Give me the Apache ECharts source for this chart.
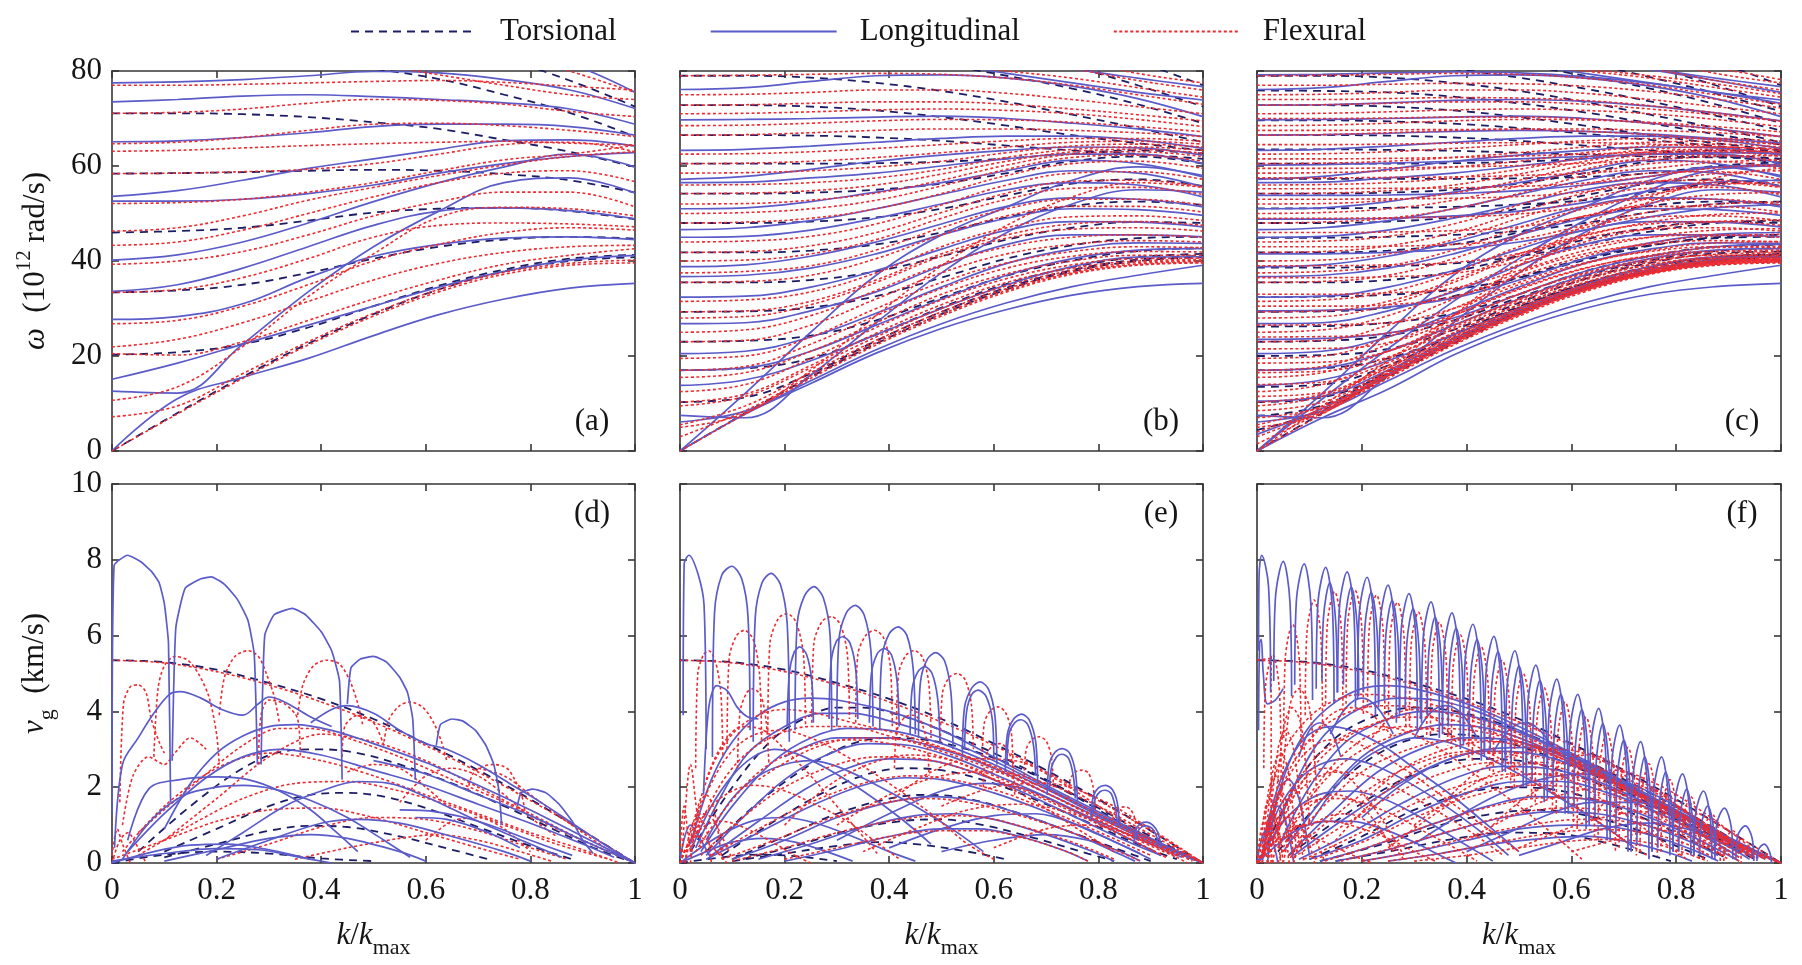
<!DOCTYPE html>
<html><head><meta charset="utf-8">
<script src="https://cdn.jsdelivr.net/npm/echarts/dist/echarts.min.js"></script>
<style>html,body{margin:0;padding:0;background:#fff}#c{width:1802px;height:965px}</style>
</head><body><div id="c"></div>
<script>
// ---------- k grid for the dispersion curves (top row) ----------
const KG = [0, 0.125, 0.25, 0.375, 0.5, 0.625, 0.75, 0.875, 1];

// shared acoustic branches
const T_ac = [0, 8, 15.6, 22.6, 28.8, 34, 37.8, 40, 40.8];
const F_ac = [0, 7.8, 15.3, 22.3, 28.4, 33.5, 37.2, 39.1, 39.6];

// ---------- panel (a) ----------
const aT = [T_ac,
 [20.3, 20.8, 22.5, 26, 30.5, 34.8, 38.2, 40.5, 41.3],
 [33.4, 33.8, 35, 37.5, 40.5, 43, 44.5, 45.1, 44.7],
 [46, 46.3, 47, 48.5, 50.2, 51, 51.2, 50.5, 48.8],
 [58.4, 58.5, 58.7, 59, 59.2, 59, 58.3, 57, 54.4],
 [71.1, 71.1, 70.9, 70.3, 69.2, 67.8, 65.5, 63, 59.8],
 [85, 84.8, 84, 82.5, 80.5, 78.3, 75, 71.2, 66.2],
 [95, 94, 93, 91.5, 89, 86, 82.5, 78, 72.5]];
const aL = [
 [0, 11, 15.5, 19.5, 24.3, 28.7, 32, 34.3, 35.3],
 [12.6, 12.2, 22.5, 33.5, 43, 50.5, 56.5, 57.5, 54.3],
 [15.1, 18.5, 22.5, 26.5, 30.5, 34.5, 37.8, 40.2, 41.2],
 [27.7, 28.3, 31, 36.5, 41, 43.5, 44.8, 45.1, 44.5],
 [33.6, 35, 38.5, 43, 47.5, 50.5, 51.2, 50.6, 48.9],
 [40.2, 41.3, 44, 48, 52.5, 56.5, 59.8, 62.5, 59.8],
 [52.6, 52.6, 53, 54.2, 56, 58.5, 60.5, 62, 62.8],
 [53.6, 54.8, 57, 59.5, 61.5, 63.5, 65.3, 65.5, 64.2],
 [65.1, 65.3, 66, 67, 68.3, 68.8, 68.8, 68.3, 66.5],
 [73.5, 74, 74.7, 75, 74.6, 74, 73.3, 72, 68.8],
 [77.5, 77.7, 78.2, 79, 79.9, 79.6, 78.2, 76, 72.1],
 [95, 94, 92, 90, 88, 86, 84, 81.5, 75.5]];
const aF = [F_ac,
 [7.2, 9.5, 16.3, 23, 29, 34, 37.6, 39.5, 40.2],
 [10.7, 13.5, 22, 32.5, 41.5, 49.2, 51.3, 51, 49.5],
 [20.5, 20.2, 23, 27.5, 32, 36, 39.3, 41.2, 42.6],
 [21.9, 23.5, 27, 31.5, 36, 39.5, 41.8, 43, 43.3],
 [26.8, 27.5, 30.5, 35, 40, 43.5, 46, 47, 46.5],
 [33.4, 34, 36.5, 40.5, 45, 47.5, 48, 47.8, 47.2],
 [39.3, 40, 42, 45.5, 49.5, 52.5, 54.5, 54.5, 51.4],
 [43.3, 44, 46.5, 50, 53.5, 56.5, 58.5, 59, 56.7],
 [46.3, 47, 49.5, 52.8, 55.5, 58, 60.2, 62, 63],
 [52.1, 52.3, 53, 54.5, 56.5, 59, 61.3, 62.5, 64.4],
 [58.4, 58.5, 58.8, 59.3, 60.5, 62.5, 64.5, 65, 63],
 [63.1, 63.3, 63.8, 64.3, 64.7, 65, 65.2, 64.8, 64.4],
 [64.7, 65, 66, 67.5, 68.8, 69, 68.5, 67.5, 66.2],
 [71.1, 71.3, 72, 73.2, 74, 73.8, 73, 71.5, 70.4],
 [77, 77, 77.2, 77.5, 77.8, 78, 77.6, 76.8, 76],
 [86, 85.5, 84.8, 83.5, 81.5, 79.2, 77, 75, 74],
 [96, 95, 94, 92.5, 90, 87, 84, 80, 75.5]];

// ---------- panel (b) ----------
const bT = [T_ac,
 [10.3, 11.3, 16.3, 23.2, 29.3, 34.4, 38.1, 40.3, 41.1],
 [17, 17.4, 19.5, 24.5, 30.2, 35.2, 38.7, 40.8, 41.5],
 [23, 23.2, 24.3, 27.5, 32.3, 36.9, 40.1, 42.1, 42.7],
 [29.3, 29.4, 30.2, 32.6, 36.5, 40.5, 43.3, 44.8, 45.1],
 [35.5, 35.5, 36, 37.8, 41, 44.5, 47, 48.2, 48],
 [41.8, 41.8, 42.2, 43.5, 46, 49.2, 51.6, 52.5, 51.8],
 [48, 48, 48.3, 49.2, 51, 53.8, 56.3, 57.2, 55.8],
 [54.2, 54.2, 54.4, 55, 56.3, 58.5, 61, 62, 60.5],
 [60.5, 60.5, 60.5, 60.6, 60.9, 61.6, 62.6, 63.3, 62.6],
 [66.5, 66.5, 66.4, 66, 65.3, 64.3, 63.3, 62.5, 61.5],
 [72.8, 72.8, 72.5, 71.7, 70.3, 68.5, 66.5, 64.8, 63.3],
 [79, 79, 78.6, 77.5, 75.8, 73.5, 70.8, 68, 65],
 [85, 84.8, 84.2, 83, 81.3, 79, 76.3, 73, 69],
 [92, 91.5, 90.5, 89, 87, 84.5, 81, 77, 72.5],
 [98, 97.5, 96.5, 95, 93, 90, 86.5, 82, 77]];
const bL0 = [0, 7.8, 14.2, 20.6, 25.8, 29.8, 32.8, 34.6, 35.3];
const bL = [
 [0, 12.2, 25, 37, 45.5, 51.4, 57, 59.8, 58],
 [7.5, 7, 16, 27, 37.5, 46, 52, 55, 54.5],
 [6.1, 8.4, 14.8, 21.3, 26.8, 31.2, 34.6, 37, 39.1],
 [13.8, 15, 19, 24.5, 30, 35, 38.8, 40.8, 40.9],
 [17, 17.5, 21, 26.5, 32, 37, 40.5, 42.3, 42.6],
 [20.5, 21, 24, 29, 34.5, 39.5, 42.5, 43.8, 43.7],
 [26.8, 27, 29.5, 33.5, 39, 43.5, 45.5, 45.5, 45.1],
 [32.4, 32.6, 34.5, 38, 42.5, 46.5, 48.3, 48.2, 47.2],
 [36.7, 37, 38.5, 41.5, 45.5, 49, 51, 50.8, 49.6],
 [38.8, 39.2, 41, 44, 47.8, 51.5, 53.3, 53, 51.4],
 [45, 45.2, 46.5, 49, 52, 55, 56.5, 56, 53.5],
 [46.6, 47, 48.5, 51, 54, 57, 59, 58.5, 55.6],
 [51, 51.2, 52.5, 54.5, 56.5, 59, 61.2, 60.5, 57.7],
 [56.5, 56.6, 57.5, 58.5, 60, 61.5, 62.5, 62.5, 60.5],
 [57.2, 57.8, 59.3, 61, 62.3, 63.3, 64, 63.8, 62.3],
 [63.3, 63.5, 64.2, 65, 65.8, 66.3, 66.3, 65.5, 63.7],
 [69.7, 69.8, 70, 70.3, 70.5, 70, 69, 67.8, 66.2],
 [76.1, 76.5, 77.8, 79, 79.2, 78.5, 76.8, 74.2, 70.4],
 [85, 84.8, 84, 83, 81.5, 79.5, 77.5, 75.5, 73.9],
 [90, 89.5, 88.5, 87, 85, 83, 80.5, 78.5, 76.7]];
const bF = [F_ac,
 [5, 8, 17, 28.5, 39, 47.5, 53.5, 56.5, 55.5],
 [3, 8.5, 15.8, 22.8, 28.8, 33.8, 37.4, 39.2, 39.7],
 [5.5, 9.5, 16.5, 23.3, 29.3, 34.2, 37.6, 39.4, 39.9],
 [9.5, 11.5, 17.5, 24, 30, 34.8, 38, 39.7, 40.1],
 [10.3, 12, 18, 24.8, 30.8, 35.5, 38.5, 40, 40.3],
 [12.5, 14, 19.5, 26, 31.8, 36.3, 39.2, 40.5, 40.6],
 [15.5, 16.5, 21, 27, 33, 37.3, 40, 41.2, 41.2],
 [17, 17.8, 22.5, 28.5, 34.2, 38.5, 41, 42, 41.9],
 [19.5, 20, 24, 30, 35.5, 39.6, 42, 43, 42.8],
 [23, 23.3, 26.5, 32, 37.5, 41.5, 43.5, 44.3, 44],
 [25, 25.5, 28.5, 33.8, 39.2, 43, 45, 45.5, 45],
 [28, 28.3, 30.8, 35.5, 41, 44.8, 46.7, 47, 46.3],
 [29.3, 29.5, 31.5, 36, 41.5, 45.5, 47.8, 48.3, 47.5],
 [31.5, 31.8, 33.5, 37.5, 43, 47, 49.3, 49.5, 48.5],
 [35.5, 35.7, 37, 40.5, 45.5, 49.5, 51.5, 51.5, 50.3],
 [37.5, 37.8, 39, 42.3, 47, 51, 53, 53, 51.8],
 [40, 40.2, 41.5, 44.5, 49, 53, 55.3, 55.5, 54],
 [41.8, 42, 43.2, 46, 50.2, 54.3, 56.8, 57, 55.6],
 [44, 44.2, 45.2, 47.8, 51.8, 56, 58.5, 58.8, 57.2],
 [48, 48.2, 49, 51, 54.2, 58, 60.5, 61, 59.5],
 [50, 50.2, 51, 52.8, 55.8, 59.3, 61.8, 62.3, 61],
 [52, 52.1, 52.8, 54.3, 57, 60.2, 62.5, 63, 62],
 [54.2, 54.3, 54.8, 56, 58.3, 61, 63, 63.5, 62.7],
 [56, 56.1, 56.5, 57.5, 59.3, 61.8, 63.5, 64, 63.3],
 [58.5, 58.6, 59, 59.8, 61, 62.8, 64.2, 64.6, 64],
 [60.5, 60.6, 61, 61.8, 62.8, 64, 65, 65.2, 64.6],
 [62.5, 62.6, 63, 63.7, 64.5, 65.3, 65.8, 65.8, 65.2],
 [66.5, 66.6, 67, 67.5, 67.8, 67.8, 67.5, 67, 66.2],
 [68.5, 68.6, 69, 69.5, 69.8, 69.7, 69.2, 68.3, 67.2],
 [71, 71.1, 71.4, 71.8, 72, 71.7, 71, 69.8, 68.3],
 [72.8, 72.9, 73.2, 73.5, 73.5, 73, 72, 70.8, 69.5],
 [75, 75.1, 75.5, 76, 76, 75.3, 74, 72.5, 71],
 [79, 79.1, 79.3, 79.5, 79.3, 78.5, 77, 75, 73],
 [84, 83.8, 83.3, 82.5, 81.5, 80, 78.5, 76.5, 74.5],
 [88, 87.7, 87, 86, 84.5, 82.5, 80.5, 78, 76],
 [93, 92.5, 91.5, 90, 88, 85.5, 82.5, 79.5, 77.5]];

// ---------- panel (c): (b)-like families plus the extra, finer branches ----------
const cTx = [
 [4.4, 8.6, 16.1, 23.1, 29.2, 34.3, 38, 40.2, 40.9],
 [7.4, 9.6, 16.8, 23.7, 29.7, 34.7, 38.3, 40.4, 41],
 [13.5, 14, 18, 24.5, 30.4, 35.3, 38.8, 40.8, 41.3],
 [20, 20.2, 21.5, 25.5, 31.2, 36.2, 39.6, 41.6, 42],
 [26.2, 26.3, 27, 29, 33, 37.8, 41, 43, 43.4],
 [32.4, 32.5, 32.9, 34, 36.5, 40.2, 43.2, 45, 45.5],
 [38.6, 38.6, 38.9, 39.5, 41, 43.5, 46.2, 48, 48.5],
 [44.9, 44.9, 45.1, 45.5, 46.3, 48, 50.3, 52, 52.5],
 [51.1, 51.1, 51.2, 51.4, 51.9, 52.8, 54.5, 56.3, 57],
 [57.3, 57.3, 57.3, 57.3, 57.4, 57.7, 58.5, 60, 60.8],
 [63.5, 63.5, 63.4, 63.2, 62.8, 62.4, 62, 61.8, 61.5],
 [69.6, 69.6, 69.4, 68.9, 68, 66.8, 65.5, 64.2, 63],
 [75.9, 75.8, 75.5, 74.6, 73.2, 71.3, 69, 66.7, 64.5],
 [82.3, 82.2, 81.6, 80.4, 78.6, 76.3, 73.6, 70.6, 67.5],
 [88.5, 88.3, 87.6, 86.3, 84.3, 81.7, 78.7, 75.3, 71.5]];
const cL0 = [0, 7, 13, 20.2, 25.8, 30, 33, 34.6, 35.3];
const cLx = [
 [0, 11, 21.5, 31.5, 40.5, 48.5, 55, 59.2, 60],
 [3.5, 9, 16, 23, 29, 34, 37.6, 39.7, 40.4],
 [10.5, 11.5, 17, 23.6, 29.6, 34.6, 38.2, 40.3, 40.9],
 [23.5, 23.7, 24.8, 28, 33, 37.8, 41, 43, 43.5],
 [29.5, 29.6, 30.3, 32.2, 36, 40.5, 43.8, 45.6, 46],
 [41.5, 41.5, 41.8, 42.5, 44, 46.5, 49.3, 51.2, 51.8],
 [48.8, 48.8, 49, 49.5, 50.5, 52.3, 54.8, 56.6, 57],
 [53.8, 53.8, 53.9, 54.2, 54.8, 56, 57.8, 59.7, 60.3],
 [60.2, 60.3, 60.6, 61, 61.5, 62, 62.5, 62.8, 62.6],
 [66.5, 66.6, 66.9, 67.3, 67.5, 67.3, 66.7, 65.8, 64.8],
 [72.8, 72.9, 73.3, 73.8, 74, 73.6, 72.6, 71.2, 69.5],
 [79.2, 79.3, 79.6, 79.8, 79.6, 78.8, 77.4, 75.5, 73.2],
 [85.5, 85.5, 85.3, 84.8, 83.8, 82.3, 80.3, 78, 75.5]];
const cFx = [
 [0, 9.5, 19, 28.5, 37.5, 45.5, 52.5, 57.5, 59.5],
 [1.5, 8.3, 15.7, 22.6, 28.7, 33.8, 37.4, 39.3, 39.8],
 [4, 8.9, 16.1, 23, 29, 34.1, 37.6, 39.5, 40],
 [7, 9.3, 16.4, 23.3, 29.3, 34.3, 37.8, 39.7, 40.2],
 [8.5, 10.3, 16.9, 23.7, 29.6, 34.5, 38, 39.9, 40.4],
 [11.5, 12.3, 17.6, 24.2, 30.1, 34.9, 38.3, 40.1, 40.6],
 [14, 14.5, 18.6, 24.9, 30.7, 35.4, 38.7, 40.5, 40.9],
 [16.5, 16.8, 19.8, 25.6, 31.4, 36, 39.2, 40.9, 41.3],
 [18.5, 18.7, 21, 26.4, 32, 36.6, 39.7, 41.4, 41.7],
 [21.5, 21.6, 22.8, 27.5, 33, 37.5, 40.4, 42, 42.3],
 [24, 24.1, 24.8, 28.6, 34, 38.4, 41.2, 42.8, 43.1],
 [26.5, 26.6, 27, 30, 35, 39.4, 42.2, 43.8, 44.1],
 [30.5, 30.5, 30.8, 32.5, 36.8, 41, 43.8, 45.3, 45.6],
 [33, 33, 33.3, 34.3, 38, 42.2, 45, 46.5, 46.8],
 [36.5, 36.5, 36.7, 37.4, 40, 44, 46.8, 48.3, 48.6],
 [39, 39, 39.2, 39.7, 41.6, 45.3, 48.2, 49.8, 50.1],
 [43, 43, 43.1, 43.5, 44.6, 47.5, 50.3, 52, 52.4],
 [46, 46, 46.1, 46.4, 47.2, 49.4, 52.2, 54, 54.4],
 [49, 49, 49.1, 49.3, 49.9, 51.5, 54, 56, 56.5],
 [53, 53, 53.1, 53.2, 53.6, 54.6, 56.5, 58.4, 59],
 [55.2, 55.2, 55.3, 55.4, 55.7, 56.4, 57.8, 59.6, 60.2],
 [57.5, 57.5, 57.6, 57.7, 58, 58.5, 59.5, 60.8, 61.3],
 [59.5, 59.5, 59.6, 59.8, 60.1, 60.6, 61.3, 62, 62.2],
 [61.5, 61.5, 61.6, 61.8, 62.1, 62.5, 62.9, 63.2, 63],
 [64.5, 64.5, 64.6, 64.8, 64.9, 64.9, 64.6, 64.1, 63.6],
 [67.5, 67.5, 67.6, 67.7, 67.7, 67.3, 66.6, 65.6, 64.5],
 [70, 70, 70.1, 70.3, 70.3, 69.9, 69, 67.7, 66.2],
 [74, 74, 74.2, 74.4, 74.3, 73.8, 72.7, 71.2, 69.4],
 [77, 77, 77.2, 77.4, 77.3, 76.8, 75.7, 74.1, 72.2],
 [81, 81, 81.1, 81.2, 81, 80.3, 79, 77.3, 75.2],
 [86, 86, 86, 85.8, 85.2, 84.2, 82.6, 80.6, 78.2]];

// ---------- group velocity panels: [k, v] points ----------
const T1v = [[0,5.35],[0.1,5.3],[0.2,5.1],[0.3,4.75],[0.4,4.33],[0.5,3.8],[0.6,3.15],[0.7,2.45],[0.8,1.68],[0.9,0.85],[1,0]];
const F1v = [[0,5.35],[0.1,5.28],[0.2,5.05],[0.3,4.7],[0.4,4.25],[0.5,3.72],[0.6,3.1],[0.7,2.4],[0.8,1.65],[0.9,0.85],[1,0]];

// (d)
const dT = [T1v,
 [[0.05,0.3],[0.15,1.5],[0.25,2.5],[0.33,2.95],[0.4,3.0],[0.47,2.9],[0.55,2.6],[0.65,2.1],[0.75,1.5],[0.85,0.85],[0.93,0.35],[1,0]],
 [[0.1,0.3],[0.2,0.9],[0.3,1.5],[0.38,1.8],[0.45,1.85],[0.52,1.75],[0.6,1.45],[0.7,0.95],[0.8,0.45],[0.88,0.1]],
 [[0.1,0.15],[0.2,0.5],[0.3,0.85],[0.38,0.98],[0.45,0.95],[0.55,0.7],[0.65,0.35],[0.72,0.1]],
 [[0,0],[0.1,0.22],[0.2,0.3],[0.3,0.25],[0.4,0.12],[0.5,0.05]]];
const dLh = [
 [[0,1.3],[0.004,7.85],[0.03,8.12],[0.055,7.95],[0.075,7.7],[0.09,7.4],[0.1,6.85],[0.108,5.8],[0.112,1.6]],
 [[0.115,2.7],[0.122,6.2],[0.14,7.25],[0.17,7.5],[0.19,7.55],[0.215,7.35],[0.24,6.95],[0.26,6.4],[0.272,5.5],[0.278,2.6]],
 [[0.285,2.6],[0.292,6.0],[0.31,6.55],[0.345,6.72],[0.37,6.55],[0.4,6.1],[0.42,5.6],[0.435,4.8],[0.44,2.2]],
 [[0.45,4.2],[0.457,5.15],[0.475,5.38],[0.5,5.45],[0.525,5.3],[0.55,4.9],[0.565,4.5],[0.575,3.8],[0.58,2.2]],
 [[0.62,3.1],[0.628,3.65],[0.65,3.8],[0.67,3.75],[0.695,3.5],[0.715,3.1],[0.73,2.6],[0.74,1.9],[0.745,1.0]],
 [[0.775,1.5],[0.782,1.85],[0.805,1.95],[0.83,1.85],[0.855,1.55],[0.88,1.1],[0.9,0.6],[0.92,0.25]]];
const dLb = [
 [[0.005,0.4],[0.02,2.6],[0.05,3.3],[0.08,3.95],[0.11,4.45],[0.13,4.52],[0.17,4.35],[0.21,4.05],[0.25,3.9],[0.28,4.2],[0.3,4.38],[0.33,4.25],[0.38,3.85],[0.42,3.6]],
 [[0.38,3.7],[0.42,4.05],[0.45,4.15],[0.5,3.95],[0.55,3.5],[0.6,3.15],[0.64,3.0],[0.7,2.6],[0.76,2.1],[0.82,1.6],[0.88,1.05],[0.94,0.5],[1,0]],
 [[0.1,0.9],[0.15,2.1],[0.2,2.9],[0.25,3.35],[0.3,3.6],[0.35,3.65],[0.42,3.5],[0.5,3.15],[0.6,2.65],[0.7,2.05],[0.8,1.4],[0.9,0.7],[1,0]],
 [[0.03,0.3],[0.1,1.3],[0.18,2.25],[0.25,2.8],[0.32,3.0],[0.4,2.85],[0.5,2.45],[0.6,2.05],[0.7,1.55],[0.8,1.05],[0.9,0.5],[0.96,0.15]],
 [[0.02,0.1],[0.08,1.2],[0.14,1.8],[0.2,2.0],[0.25,2.05],[0.31,1.95],[0.38,1.65],[0.45,1.2],[0.52,0.6],[0.57,0.15]],
 [[0.03,0.6],[0.07,1.95],[0.13,2.2],[0.2,2.27],[0.26,2.2],[0.32,1.9],[0.38,1.4],[0.43,0.8],[0.47,0.3]],
 [[0.18,0.2],[0.25,0.8],[0.33,1.5],[0.4,1.9],[0.47,2.15],[0.53,2.1],[0.6,1.75],[0.7,1.1],[0.8,0.5],[0.86,0.15]],
 [[0.2,0.1],[0.3,0.6],[0.4,1.05],[0.47,1.15],[0.55,1.05],[0.65,0.7],[0.75,0.3],[0.8,0.05]],
 [[0.1,0.05],[0.2,0.35],[0.3,0.65],[0.38,0.75],[0.45,0.65],[0.55,0.3],[0.6,0.05]],
 [[0,0],[0.08,0.3],[0.15,0.47],[0.22,0.5],[0.3,0.35],[0.38,0.1]],
 [[0,0.05],[0.1,0.25],[0.2,0.38],[0.28,0.35],[0.36,0.15],[0.42,0]],
 [[0.5,2.7],[0.6,2.35],[0.7,1.8],[0.8,1.25],[0.9,0.6],[1,0]],
 [[0.55,1.4],[0.62,1.35],[0.7,1.1],[0.8,0.6],[0.88,0.2]],
 [[0.58,1.2],[0.64,1.15],[0.72,0.8],[0.78,0.4]]];
const dF = [F1v,
 [[0.015,1.6],[0.022,4.2],[0.035,4.65],[0.05,4.7],[0.065,4.5],[0.075,3.8],[0.09,3.2],[0.1,2.9]],
 [[0.08,2.8],[0.088,4.6],[0.1,5.2],[0.12,5.45],[0.145,5.35],[0.165,5.0],[0.185,4.4],[0.2,3.4],[0.205,2.6]],
 [[0.205,3.9],[0.215,4.9],[0.235,5.45],[0.26,5.6],[0.28,5.45],[0.295,5.0],[0.31,4.4],[0.32,3.7]],
 [[0.355,3.9],[0.365,4.7],[0.385,5.2],[0.41,5.35],[0.435,5.25],[0.455,4.8],[0.47,4.2],[0.48,3.6]],
 [[0.52,3.2],[0.53,3.8],[0.55,4.15],[0.57,4.25],[0.595,4.1],[0.615,3.7],[0.63,3.2],[0.64,2.7]],
 [[0.68,1.9],[0.69,2.35],[0.71,2.55],[0.73,2.6],[0.755,2.5],[0.77,2.2],[0.785,1.7],[0.79,1.3]],
 [[0.05,0.8],[0.15,2],[0.25,3.1],[0.32,3.55],[0.38,3.55],[0.45,3.3],[0.55,2.8],[0.65,2.2],[0.75,1.6],[0.85,0.9],[0.95,0.3],[1,0]],
 [[0.1,0.6],[0.2,1.7],[0.3,2.8],[0.4,3.4],[0.5,3.2],[0.6,2.7],[0.7,2.0],[0.8,1.3],[0.9,0.6],[1,0]],
 [[0.02,0.3],[0.1,1.5],[0.2,2.5],[0.3,2.9],[0.4,2.7],[0.5,2.3],[0.6,1.8],[0.7,1.3],[0.8,0.8],[0.9,0.35],[0.97,0]],
 [[0.05,0.2],[0.15,1.0],[0.25,1.7],[0.35,2.1],[0.45,2.15],[0.55,1.9],[0.65,1.5],[0.75,1.0],[0.85,0.5],[0.95,0.1]],
 [[0,0.1],[0.1,0.6],[0.2,1.1],[0.3,1.4],[0.4,1.45],[0.5,1.2],[0.6,0.8],[0.7,0.4],[0.78,0.1]],
 [[0.2,0.1],[0.3,0.5],[0.4,0.95],[0.5,1.2],[0.6,1.15],[0.7,0.85],[0.8,0.4],[0.87,0.1]],
 [[0.35,0.1],[0.45,0.4],[0.55,0.65],[0.62,0.75],[0.7,0.6],[0.78,0.3],[0.84,0.05]],
 [[0,0.2],[0.01,0.9],[0.02,0.5],[0.035,0]],
 [[0,0],[0.015,0.6],[0.03,0.8],[0.05,0.4],[0.065,0]],
 [[0.02,1.0],[0.04,2.3],[0.07,2.8],[0.1,2.6],[0.12,2.9],[0.15,3.3],[0.18,3.0]],
 [[0.28,2.6],[0.285,3.9],[0.3,4.3],[0.33,4.2],[0.355,3.8],[0.36,2.8]],
 [[0.44,2.8],[0.445,3.6],[0.47,3.9],[0.5,3.7],[0.52,3.1]],
 [[0.55,1.6],[0.6,2.3],[0.65,2.5],[0.7,2.3],[0.75,1.8],[0.8,1.2],[0.85,0.7]],
 [[0.45,2.4],[0.5,2.6],[0.55,2.5],[0.6,2.0],[0.65,1.4]],
 [[0.6,0.6],[0.65,1.1],[0.7,1.2],[0.75,0.9],[0.8,0.3]],
 [[0.7,2.5],[0.75,2.3],[0.8,1.8],[0.85,1.3],[0.9,0.8],[0.95,0.35],[1,0]]];

// (e)
const eT = [T1v,
 [[0.02,0.3],[0.1,2.0],[0.18,3.3],[0.25,3.9],[0.3,4.1],[0.35,4.1],[0.42,3.9],[0.5,3.5],[0.6,2.9],[0.7,2.2],[0.8,1.45],[0.9,0.7],[1,0]],
 [[0.05,0.3],[0.15,1.6],[0.25,2.6],[0.33,3.15],[0.4,3.3],[0.47,3.25],[0.55,3.0],[0.65,2.5],[0.75,1.8],[0.85,1.0],[0.93,0.4],[1,0]],
 [[0.08,0.2],[0.18,1.1],[0.28,1.9],[0.36,2.35],[0.43,2.5],[0.5,2.45],[0.6,2.1],[0.7,1.55],[0.8,0.95],[0.9,0.35],[0.95,0.1]],
 [[0.1,0.1],[0.2,0.7],[0.3,1.3],[0.4,1.7],[0.47,1.8],[0.55,1.7],[0.65,1.3],[0.75,0.8],[0.85,0.3],[0.9,0.05]],
 [[0.12,0.1],[0.22,0.45],[0.32,0.85],[0.42,1.1],[0.5,1.15],[0.58,1.0],[0.68,0.65],[0.78,0.25],[0.83,0.05]],
 [[0.1,0.05],[0.2,0.25],[0.3,0.45],[0.38,0.55],[0.45,0.5],[0.55,0.3],[0.63,0.08]],
 [[0,0],[0.08,0.15],[0.15,0.22],[0.22,0.18],[0.3,0.05]]];
const eLh = [
 [[0.006,3.9],[0.008,7.9],[0.017,8.12],[0.035,7.6],[0.046,6.8],[0.05,3.0]],
 [[0.062,2.8],[0.066,6.6],[0.08,7.6],[0.099,7.83],[0.118,7.5],[0.13,6.5],[0.134,3.5]],
 [[0.14,3.2],[0.144,6.5],[0.157,7.4],[0.174,7.64],[0.192,7.35],[0.205,6.3],[0.209,3.2]],
 [[0.22,3.5],[0.224,6.3],[0.238,7.05],[0.256,7.29],[0.274,7.0],[0.287,6.0],[0.29,3.5]],
 [[0.3,3.6],[0.304,5.9],[0.318,6.6],[0.335,6.8],[0.352,6.55],[0.365,5.6],[0.369,3.6]],
 [[0.382,3.5],[0.386,5.4],[0.4,6.05],[0.417,6.23],[0.434,6.0],[0.446,5.1],[0.45,3.4]],
 [[0.456,3.3],[0.46,4.8],[0.473,5.38],[0.489,5.55],[0.506,5.33],[0.518,4.5],[0.522,3.0]],
 [[0.54,2.8],[0.544,4.1],[0.558,4.62],[0.574,4.78],[0.59,4.58],[0.602,3.9],[0.606,2.6]],
 [[0.622,2.4],[0.626,3.4],[0.638,3.8],[0.653,3.93],[0.668,3.77],[0.68,3.2],[0.684,2.1]],
 [[0.702,1.8],[0.706,2.6],[0.717,2.92],[0.731,3.02],[0.745,2.9],[0.756,2.4],[0.76,1.6]],
 [[0.786,1.2],[0.79,1.75],[0.8,1.98],[0.813,2.05],[0.826,1.95],[0.836,1.6],[0.84,1.0]],
 [[0.868,0.5],[0.872,0.9],[0.882,1.05],[0.892,1.08],[0.904,1.0],[0.914,0.8],[0.92,0.4]],
 [[0.045,1.8],[0.055,4.1],[0.07,4.68],[0.09,4.55],[0.11,4.1],[0.13,3.85],[0.15,3.8]],
 [[0.205,3.6],[0.209,5.0],[0.218,5.55],[0.229,5.7],[0.242,5.5],[0.252,4.8],[0.255,3.7]],
 [[0.285,3.8],[0.289,5.3],[0.299,5.85],[0.311,5.97],[0.325,5.8],[0.336,5.1],[0.34,3.8]],
 [[0.362,3.7],[0.366,5.0],[0.377,5.52],[0.39,5.66],[0.404,5.5],[0.415,4.8],[0.419,3.6]],
 [[0.44,3.4],[0.444,4.6],[0.455,5.05],[0.468,5.18],[0.482,5.0],[0.493,4.3],[0.497,3.2]],
 [[0.544,3.0],[0.548,4.0],[0.558,4.45],[0.57,4.56],[0.585,4.4],[0.597,3.8],[0.6,2.8]],
 [[0.625,2.6],[0.629,3.4],[0.64,3.7],[0.652,3.78],[0.665,3.65],[0.676,3.1],[0.68,2.3]],
 [[0.706,1.9],[0.71,2.5],[0.72,2.8],[0.73,2.87],[0.743,2.76],[0.752,2.3],[0.756,1.7]],
 [[0.79,1.3],[0.794,1.7],[0.803,1.88],[0.813,1.92],[0.824,1.84],[0.832,1.5],[0.836,1.1]],
 [[0.872,0.6],[0.876,0.85],[0.884,0.96],[0.892,0.98],[0.902,0.92],[0.91,0.75],[0.915,0.45]]];
const eLb = [
 [[0.02,0.5],[0.06,2.2],[0.1,3.2],[0.15,3.9],[0.2,4.25],[0.25,4.35],[0.3,4.3],[0.4,4.0],[0.5,3.5],[0.6,2.8],[0.7,2.05],[0.8,1.35],[0.9,0.65],[1,0]],
 [[0.03,0.4],[0.08,1.8],[0.13,2.9],[0.2,3.6],[0.27,3.95],[0.33,3.95],[0.4,3.75],[0.5,3.3],[0.6,2.7],[0.7,2.0],[0.8,1.3],[0.9,0.62],[1,0]],
 [[0.04,0.3],[0.1,1.5],[0.18,2.7],[0.25,3.3],[0.32,3.55],[0.4,3.5],[0.5,3.15],[0.6,2.6],[0.7,1.95],[0.8,1.25],[0.9,0.6],[0.98,0.1]],
 [[0.05,0.2],[0.12,1.2],[0.2,2.2],[0.28,2.85],[0.36,3.15],[0.44,3.1],[0.52,2.8],[0.6,2.35],[0.7,1.75],[0.8,1.1],[0.9,0.5],[0.96,0.15]],
 [[0.06,0.2],[0.15,1.1],[0.24,1.95],[0.32,2.5],[0.4,2.75],[0.48,2.7],[0.56,2.4],[0.65,1.9],[0.75,1.25],[0.85,0.6],[0.92,0.2]],
 [[0.05,0.1],[0.15,0.8],[0.25,1.5],[0.35,2.05],[0.43,2.25],[0.5,2.2],[0.6,1.85],[0.7,1.35],[0.8,0.75],[0.88,0.25]],
 [[0.1,0.1],[0.2,0.6],[0.3,1.2],[0.4,1.6],[0.48,1.75],[0.56,1.65],[0.65,1.3],[0.75,0.8],[0.83,0.3],[0.87,0.05]],
 [[0.15,0.1],[0.25,0.5],[0.35,0.95],[0.45,1.25],[0.52,1.3],[0.6,1.15],[0.7,0.75],[0.78,0.35],[0.83,0.05]],
 [[0.2,0.05],[0.3,0.35],[0.4,0.7],[0.5,0.9],[0.57,0.9],[0.65,0.7],[0.73,0.35],[0.78,0.05]],
 [[0,0],[0.05,0.5],[0.1,0.9],[0.15,1.15],[0.2,1.2],[0.26,1.05],[0.33,0.7],[0.4,0.3],[0.45,0.05]],
 [[0,0],[0.05,0.3],[0.1,0.55],[0.16,0.65],[0.22,0.55],[0.28,0.3],[0.33,0.05]],
 [[0.05,0.6],[0.1,1.7],[0.15,2.3],[0.2,2.6],[0.25,2.7],[0.3,2.55],[0.37,2.1],[0.45,1.5],[0.52,0.9],[0.58,0.3]],
 [[0.02,0.3],[0.06,1.5],[0.1,2.3],[0.14,2.8],[0.18,3.0],[0.22,2.9],[0.28,2.5],[0.35,1.9],[0.42,1.2],[0.48,0.5]],
 [[0.2,2.8],[0.3,3.3],[0.4,3.3],[0.5,3.0],[0.6,2.5],[0.7,1.85],[0.8,1.2],[0.9,0.55],[1,0]],
 [[0.3,0.6],[0.4,1.3],[0.5,1.9],[0.58,2.1],[0.66,1.95],[0.75,1.4],[0.85,0.7],[0.92,0.2]],
 [[0.4,0.4],[0.5,0.9],[0.6,1.25],[0.68,1.3],[0.76,1.0],[0.84,0.5],[0.9,0.1]],
 [[0.5,0.3],[0.6,0.6],[0.7,0.75],[0.78,0.6],[0.85,0.25],[0.88,0.05]],
 [[0,0.1],[0.02,1.0],[0.04,0.6],[0.06,0.1]]];
const eFh = [
 [[0.03,2.5],[0.034,5.0],[0.045,5.5],[0.055,5.6],[0.068,5.3],[0.078,4.5],[0.082,2.8]],
 [[0.09,3.0],[0.094,5.4],[0.108,6.0],[0.123,6.14],[0.14,5.9],[0.152,5.0],[0.156,3.2]],
 [[0.168,3.5],[0.172,5.8],[0.188,6.45],[0.205,6.58],[0.222,6.35],[0.236,5.5],[0.24,3.6]],
 [[0.252,3.7],[0.256,5.8],[0.272,6.38],[0.29,6.5],[0.307,6.28],[0.32,5.5],[0.324,3.8]],
 [[0.336,3.7],[0.34,5.5],[0.355,6.0],[0.372,6.14],[0.389,5.95],[0.402,5.2],[0.406,3.6]],
 [[0.414,3.5],[0.418,5.0],[0.432,5.48],[0.448,5.6],[0.464,5.42],[0.476,4.7],[0.48,3.3]],
 [[0.498,3.2],[0.502,4.5],[0.515,4.9],[0.53,5.0],[0.545,4.84],[0.557,4.2],[0.561,3.0]],
 [[0.578,2.8],[0.582,3.7],[0.594,4.03],[0.608,4.12],[0.622,3.98],[0.633,3.5],[0.637,2.5]],
 [[0.658,2.3],[0.662,3.0],[0.673,3.26],[0.687,3.33],[0.7,3.22],[0.71,2.8],[0.714,2.0]],
 [[0.742,1.7],[0.746,2.2],[0.756,2.4],[0.769,2.45],[0.781,2.37],[0.79,2.0],[0.794,1.4]],
 [[0.826,1.0],[0.83,1.3],[0.839,1.45],[0.85,1.48],[0.861,1.42],[0.869,1.2],[0.873,0.8]],
 [[0.11,2.5],[0.115,4.0],[0.128,4.5],[0.14,4.6],[0.155,4.4],[0.165,3.7],[0.17,2.6]],
 [[0.41,2.5],[0.415,3.5],[0.43,3.85],[0.445,3.9],[0.46,3.75],[0.472,3.2],[0.476,2.3]],
 [[0.58,2.0],[0.584,2.8],[0.598,3.1],[0.612,3.15],[0.626,3.0],[0.636,2.6],[0.64,1.8]]];
const eFb = [F1v,
 [[0.02,0.8],[0.06,2.5],[0.1,3.4],[0.15,3.9],[0.2,4.05],[0.26,3.95],[0.33,3.7],[0.42,3.4],[0.5,3.05],[0.6,2.55],[0.7,1.95],[0.8,1.3],[0.9,0.6],[1,0]],
 [[0.02,0.4],[0.07,1.9],[0.12,2.8],[0.18,3.35],[0.25,3.6],[0.32,3.6],[0.4,3.35],[0.5,2.95],[0.6,2.45],[0.7,1.85],[0.8,1.2],[0.9,0.55],[0.98,0.05]],
 [[0.03,0.3],[0.09,1.5],[0.16,2.5],[0.24,3.05],[0.32,3.25],[0.4,3.15],[0.5,2.8],[0.6,2.3],[0.7,1.7],[0.8,1.1],[0.9,0.45],[0.95,0.15]],
 [[0.04,0.2],[0.12,1.2],[0.2,2.0],[0.3,2.6],[0.38,2.8],[0.46,2.75],[0.55,2.45],[0.65,1.95],[0.75,1.35],[0.85,0.7],[0.93,0.15]],
 [[0.06,0.2],[0.15,0.9],[0.25,1.6],[0.35,2.1],[0.44,2.3],[0.52,2.2],[0.62,1.85],[0.72,1.3],[0.82,0.7],[0.9,0.2]],
 [[0.08,0.1],[0.18,0.6],[0.28,1.15],[0.38,1.55],[0.47,1.7],[0.55,1.6],[0.65,1.25],[0.75,0.8],[0.84,0.3],[0.88,0.05]],
 [[0.1,0.05],[0.2,0.4],[0.3,0.8],[0.4,1.1],[0.5,1.25],[0.58,1.2],[0.67,0.9],[0.76,0.5],[0.83,0.1]],
 [[0.2,0.1],[0.3,0.4],[0.4,0.7],[0.5,0.85],[0.58,0.85],[0.66,0.65],[0.74,0.3],[0.78,0.05]],
 [[0,0],[0.03,0.9],[0.06,1.5],[0.1,1.9],[0.14,2.05],[0.19,1.95],[0.25,1.6],[0.32,1.1],[0.38,0.5],[0.42,0.1]],
 [[0,0],[0.02,0.6],[0.05,1.0],[0.08,1.1],[0.12,0.95],[0.17,0.6],[0.22,0.2],[0.25,0]],
 [[0,0],[0.015,0.5],[0.03,0.7],[0.05,0.6],[0.07,0.3],[0.09,0]],
 [[0.01,0],[0.025,0.9],[0.04,1.3],[0.06,1.2],[0.08,0.7],[0.1,0.1]],
 [[0.05,2.2],[0.08,3.1],[0.12,3.6],[0.16,3.5],[0.2,3.0],[0.25,2.3],[0.3,1.5],[0.35,0.7],[0.38,0.2]],
 [[0.15,2.2],[0.25,3.0],[0.35,3.3],[0.45,3.2],[0.55,2.8],[0.65,2.2],[0.75,1.5],[0.85,0.8],[0.95,0.2]],
 [[0.3,1.0],[0.4,1.8],[0.5,2.3],[0.6,2.4],[0.7,2.1],[0.8,1.5],[0.9,0.75],[1,0]],
 [[0.5,1.5],[0.6,2.0],[0.7,2.1],[0.8,1.7],[0.9,0.9],[1,0]],
 [[0.35,0.3],[0.45,0.9],[0.55,1.4],[0.65,1.55],[0.75,1.3],[0.85,0.7],[0.93,0.15]],
 [[0.6,0.4],[0.7,0.9],[0.78,1.0],[0.86,0.75],[0.93,0.3],[0.97,0]],
 [[0.003,0],[0.01,1.4],[0.02,2.6],[0.03,1.6],[0.04,0.4]],
 [[0,0.3],[0.008,1.5],[0.015,0.8],[0.022,0.1]],
 [[0.03,1.2],[0.08,2.6],[0.13,3.3],[0.19,3.5],[0.25,3.3],[0.32,2.8],[0.4,2.1],[0.48,1.3],[0.55,0.5],[0.6,0.1]],
 [[0.2,1.0],[0.28,2.0],[0.36,2.6],[0.44,2.85],[0.52,2.7],[0.6,2.2],[0.68,1.6],[0.76,0.9],[0.83,0.3]],
 [[0.4,1.6],[0.48,2.4],[0.56,2.75],[0.64,2.7],[0.72,2.2],[0.8,1.5],[0.88,0.8],[0.95,0.2]],
 [[0.01,0],[0.02,0.9],[0.035,1.2],[0.05,0.9],[0.06,0]],
 [[0.02,0],[0.035,1.4],[0.05,1.8],[0.065,1.4],[0.08,0.1]]];

// (f)
const fT = [T1v,
 [[0.02,0.5],[0.08,2.2],[0.15,3.3],[0.22,3.85],[0.3,4.1],[0.38,4.0],[0.46,3.7],[0.55,3.2],[0.65,2.55],[0.75,1.85],[0.85,1.1],[0.93,0.45],[1,0]],
 [[0.04,0.3],[0.12,1.6],[0.2,2.6],[0.28,3.2],[0.36,3.4],[0.44,3.3],[0.53,2.95],[0.63,2.4],[0.73,1.7],[0.83,1.0],[0.92,0.35]],
 [[0.06,0.2],[0.15,1.1],[0.25,2.0],[0.34,2.55],[0.42,2.75],[0.5,2.7],[0.6,2.35],[0.7,1.8],[0.8,1.15],[0.9,0.45],[0.95,0.1]],
 [[0.1,0.1],[0.2,0.7],[0.3,1.4],[0.4,1.85],[0.48,2.0],[0.56,1.95],[0.66,1.6],[0.76,1.05],[0.85,0.45],[0.9,0.1]],
 [[0.12,0.05],[0.24,0.5],[0.35,1.0],[0.45,1.3],[0.54,1.4],[0.63,1.25],[0.72,0.9],[0.8,0.45],[0.86,0.1]],
 [[0.15,0.05],[0.27,0.35],[0.38,0.65],[0.48,0.8],[0.57,0.78],[0.66,0.55],[0.74,0.25],[0.79,0.05]]];
const fLh = [
 [[0.003,5.6],[0.004,7.6],[0.009,8.12],[0.022,7.3],[0.026,4.5]],
 [[0.032,4.8],[0.035,6.96],[0.05,7.96],[0.063,6.86],[0.066,4.4]],
 [[0.072,4.7],[0.075,6.89],[0.09,7.89],[0.103,6.79],[0.106,4.3]],
 [[0.113,4.6],[0.116,6.8],[0.131,7.8],[0.144,6.7],[0.147,4.2]],
 [[0.154,4.5],[0.157,6.68],[0.172,7.68],[0.185,6.58],[0.188,4.1]],
 [[0.192,4.3],[0.195,6.54],[0.21,7.54],[0.223,6.44],[0.226,3.9]],
 [[0.232,4.1],[0.235,6.33],[0.25,7.33],[0.263,6.23],[0.266,3.7]],
 [[0.272,3.9],[0.275,6.11],[0.29,7.11],[0.303,6.01],[0.306,3.5]],
 [[0.314,3.7],[0.317,5.89],[0.332,6.89],[0.345,5.79],[0.348,3.3]],
 [[0.354,3.4],[0.357,5.6],[0.372,6.6],[0.385,5.5],[0.388,3.0]],
 [[0.394,3.1],[0.397,5.3],[0.412,6.3],[0.425,5.2],[0.428,2.7]],
 [[0.434,2.8],[0.437,4.98],[0.452,5.98],[0.465,4.88],[0.468,2.4]],
 [[0.474,2.4],[0.477,4.6],[0.492,5.6],[0.505,4.5],[0.508,2.0]],
 [[0.514,2.0],[0.517,4.22],[0.532,5.22],[0.545,4.12],[0.548,1.6]],
 [[0.554,1.7],[0.557,3.85],[0.572,4.85],[0.585,3.75],[0.588,1.3]],
 [[0.594,1.3],[0.597,3.45],[0.612,4.45],[0.625,3.35],[0.628,0.9]],
 [[0.634,1.0],[0.637,3.08],[0.652,4.08],[0.665,2.98],[0.668,0.6]],
 [[0.674,0.6],[0.677,2.64],[0.692,3.64],[0.705,2.54],[0.708,0.3]],
 [[0.714,0.3],[0.717,2.2],[0.732,3.2],[0.745,2.1],[0.748,0.1]],
 [[0.754,0.3],[0.757,1.9],[0.772,2.8],[0.785,1.8],[0.788,0.2]],
 [[0.794,0.3],[0.797,1.6],[0.812,2.35],[0.825,1.5],[0.828,0.2]],
 [[0.834,0.2],[0.837,1.3],[0.852,1.9],[0.865,1.2],[0.868,0.1]],
 [[0.874,0.2],[0.877,1.0],[0.892,1.45],[0.905,0.95],[0.908,0.1]],
 [[0.914,0.1],[0.917,0.7],[0.932,0.98],[0.945,0.65],[0.948,0.05]],
 [[0.954,0.05],[0.957,0.35],[0.968,0.5],[0.978,0.3],[0.982,0]],
 [[0.124,4.8],[0.127,6.5],[0.139,7.4],[0.15,6.4],[0.153,4.5]],
 [[0.165,4.7],[0.168,6.38],[0.18,7.28],[0.191,6.28],[0.194,4.4]],
 [[0.203,4.5],[0.206,6.24],[0.218,7.14],[0.229,6.14],[0.232,4.2]],
 [[0.243,4.3],[0.246,6.03],[0.258,6.93],[0.269,5.93],[0.272,4.0]],
 [[0.283,4.1],[0.286,5.81],[0.298,6.71],[0.309,5.71],[0.312,3.8]],
 [[0.325,3.9],[0.328,5.59],[0.34,6.49],[0.351,5.49],[0.354,3.6]],
 [[0.365,3.6],[0.368,5.3],[0.38,6.2],[0.391,5.2],[0.394,3.3]],
 [[0.405,3.3],[0.408,5.0],[0.42,5.9],[0.431,4.9],[0.434,3.0]],
 [[0.445,3.0],[0.448,4.68],[0.46,5.58],[0.471,4.58],[0.474,2.7]],
 [[0.485,2.6],[0.488,4.3],[0.5,5.2],[0.511,4.2],[0.514,2.3]],
 [[0.525,2.2],[0.528,3.92],[0.54,4.82],[0.551,3.82],[0.554,1.9]],
 [[0.565,1.9],[0.568,3.55],[0.58,4.45],[0.591,3.45],[0.594,1.5]],
 [[0.605,1.5],[0.608,3.15],[0.62,4.05],[0.631,3.05],[0.634,1.1]],
 [[0.645,1.2],[0.648,2.78],[0.66,3.68],[0.671,2.68],[0.674,0.8]],
 [[0.685,0.8],[0.688,2.34],[0.7,3.24],[0.711,2.24],[0.714,0.5]],
 [[0.725,0.5],[0.728,1.9],[0.74,2.8],[0.751,1.8],[0.754,0.3]],
 [[0.765,0.4],[0.768,1.6],[0.78,2.4],[0.791,1.5],[0.794,0.3]],
 [[0.805,0.3],[0.808,1.3],[0.82,1.95],[0.831,1.2],[0.834,0.2]],
 [[0.845,0.2],[0.848,1.0],[0.86,1.5],[0.871,0.95],[0.874,0.1]]];
const fLb = [
 [[0.02,0.8],[0.06,2.6],[0.1,3.6],[0.15,4.25],[0.2,4.6],[0.25,4.68],[0.3,4.6],[0.4,4.2],[0.5,3.6],[0.6,2.9],[0.7,2.15],[0.8,1.4],[0.9,0.68],[1,0]],
 [[0.03,0.6],[0.08,2.3],[0.13,3.4],[0.2,4.1],[0.27,4.35],[0.34,4.3],[0.42,4.0],[0.5,3.5],[0.6,2.85],[0.7,2.1],[0.8,1.38],[0.9,0.66],[1,0]],
 [[0.04,0.4],[0.1,2.0],[0.17,3.2],[0.25,3.8],[0.32,4.0],[0.4,3.9],[0.5,3.45],[0.6,2.8],[0.7,2.08],[0.8,1.35],[0.9,0.64],[0.98,0.1]],
 [[0.05,0.3],[0.12,1.6],[0.2,2.8],[0.28,3.4],[0.36,3.65],[0.44,3.55],[0.52,3.2],[0.6,2.7],[0.7,2.0],[0.8,1.3],[0.9,0.6],[0.97,0.1]],
 [[0.06,0.2],[0.14,1.3],[0.23,2.4],[0.32,3.05],[0.4,3.3],[0.48,3.25],[0.56,2.95],[0.65,2.4],[0.75,1.7],[0.85,0.95],[0.93,0.3]],
 [[0.07,0.2],[0.16,1.1],[0.26,2.0],[0.35,2.65],[0.44,2.95],[0.52,2.9],[0.6,2.6],[0.7,2.0],[0.8,1.3],[0.9,0.55],[0.95,0.15]],
 [[0.08,0.1],[0.18,0.8],[0.28,1.6],[0.38,2.25],[0.47,2.55],[0.55,2.5],[0.64,2.2],[0.74,1.6],[0.84,0.9],[0.92,0.3]],
 [[0.1,0.1],[0.2,0.6],[0.3,1.3],[0.4,1.85],[0.5,2.15],[0.58,2.15],[0.67,1.85],[0.77,1.3],[0.86,0.65],[0.92,0.15]],
 [[0.12,0.05],[0.22,0.45],[0.33,1.0],[0.44,1.5],[0.53,1.75],[0.62,1.7],[0.7,1.45],[0.8,0.9],[0.88,0.35],[0.92,0.05]],
 [[0.15,0.05],[0.25,0.35],[0.36,0.8],[0.47,1.2],[0.56,1.35],[0.65,1.3],[0.73,1.05],[0.82,0.6],[0.88,0.2]],
 [[0.2,0.05],[0.3,0.3],[0.4,0.6],[0.5,0.9],[0.6,1.0],[0.68,0.95],[0.76,0.7],[0.84,0.3],[0.88,0.05]],
 [[0.25,0.05],[0.35,0.25],[0.45,0.5],[0.55,0.65],[0.63,0.7],[0.71,0.55],[0.79,0.25],[0.83,0.05]],
 [[0.01,0.5],[0.04,2.0],[0.07,2.9],[0.1,3.4],[0.14,3.6],[0.18,3.5],[0.24,3.1],[0.3,2.5],[0.37,1.8],[0.44,1.0],[0.5,0.3]],
 [[0.01,0.3],[0.04,1.4],[0.08,2.2],[0.12,2.6],[0.17,2.75],[0.22,2.6],[0.28,2.2],[0.35,1.6],[0.42,0.9],[0.48,0.2]],
 [[0,0],[0.04,0.9],[0.08,1.5],[0.13,1.85],[0.18,1.9],[0.24,1.7],[0.3,1.3],[0.36,0.8],[0.42,0.3],[0.45,0.05]],
 [[0,0],[0.04,0.5],[0.08,0.9],[0.13,1.1],[0.18,1.1],[0.24,0.9],[0.3,0.55],[0.35,0.2],[0.38,0]],
 [[0.1,1.0],[0.15,2.0],[0.2,2.7],[0.25,3.1],[0.3,3.3],[0.36,3.2],[0.42,2.9],[0.5,2.35],[0.58,1.7],[0.66,1.0],[0.72,0.4]],
 [[0.2,1.2],[0.28,2.1],[0.36,2.7],[0.44,3.0],[0.52,3.05],[0.6,2.8],[0.68,2.3],[0.76,1.6],[0.84,0.85],[0.9,0.3]],
 [[0.3,0.5],[0.38,1.2],[0.46,1.8],[0.54,2.2],[0.62,2.35],[0.7,2.15],[0.78,1.65],[0.86,0.95],[0.93,0.3]],
 [[0.4,0.3],[0.48,0.8],[0.56,1.3],[0.64,1.6],[0.72,1.6],[0.8,1.3],[0.88,0.7],[0.94,0.2]],
 [[0.5,0.2],[0.58,0.55],[0.66,0.9],[0.74,1.05],[0.82,0.9],[0.89,0.5],[0.94,0.1]],
 [[0.14,3.4],[0.17,4.1],[0.2,4.35],[0.23,4.1],[0.26,3.4]],
 [[0.3,3.3],[0.33,3.95],[0.36,4.15],[0.39,3.95],[0.42,3.3]],
 [[0.45,2.9],[0.48,3.5],[0.51,3.7],[0.54,3.5],[0.57,2.9]],
 [[0.08,2.8],[0.1,3.5],[0.12,3.7],[0.14,3.5],[0.16,2.8]],
 [[0,0],[0.01,0.7],[0.02,0.9],[0.03,0.6],[0.04,0]],
 [[0.01,0],[0.025,1.2],[0.04,1.5],[0.055,1.1],[0.07,0]],
 [[0.02,0],[0.04,1.8],[0.06,2.2],[0.08,1.7],[0.1,0.2]],
 [[0.003,3.5],[0.005,5.8],[0.008,5.9],[0.012,5.0],[0.02,4.2],[0.035,4.3],[0.05,4.6]]];
const fFh = [
 [[0.013,2.5],[0.016,4.6],[0.03,5.5],[0.043,4.5],[0.046,2.2]],
 [[0.051,3.3],[0.054,5.4],[0.068,6.3],[0.081,5.3],[0.084,3.0]],
 [[0.092,3.9],[0.095,6.04],[0.109,6.94],[0.122,5.94],[0.125,3.6]],
 [[0.131,4.2],[0.134,6.26],[0.148,7.16],[0.161,6.16],[0.164,3.9]],
 [[0.17,4.2],[0.173,6.3],[0.187,7.2],[0.2,6.2],[0.203,3.9]],
 [[0.211,4.1],[0.214,6.17],[0.228,7.07],[0.241,6.07],[0.244,3.8]],
 [[0.251,3.9],[0.254,5.98],[0.268,6.88],[0.281,5.88],[0.284,3.6]],
 [[0.291,3.6],[0.294,5.72],[0.308,6.62],[0.321,5.62],[0.324,3.3]],
 [[0.331,3.4],[0.334,5.45],[0.348,6.35],[0.361,5.35],[0.364,3.1]],
 [[0.371,3.0],[0.374,5.12],[0.388,6.02],[0.401,5.02],[0.404,2.7]],
 [[0.411,2.7],[0.414,4.8],[0.428,5.7],[0.441,4.7],[0.444,2.4]],
 [[0.451,2.4],[0.454,4.45],[0.468,5.35],[0.481,4.35],[0.484,2.1]],
 [[0.491,2.0],[0.494,4.1],[0.508,5.0],[0.521,4.0],[0.524,1.7]],
 [[0.531,1.6],[0.534,3.72],[0.548,4.62],[0.561,3.62],[0.564,1.3]],
 [[0.571,1.3],[0.574,3.35],[0.588,4.25],[0.601,3.25],[0.604,1.0]],
 [[0.611,0.9],[0.614,2.95],[0.628,3.85],[0.641,2.85],[0.644,0.6]],
 [[0.651,0.6],[0.654,2.55],[0.668,3.45],[0.681,2.45],[0.684,0.3]],
 [[0.691,0.4],[0.694,2.15],[0.708,3.05],[0.721,2.05],[0.724,0.2]],
 [[0.731,0.3],[0.734,1.8],[0.748,2.62],[0.761,1.7],[0.764,0.2]],
 [[0.771,0.3],[0.774,1.5],[0.788,2.2],[0.801,1.4],[0.804,0.2]],
 [[0.811,0.2],[0.814,1.2],[0.828,1.75],[0.841,1.1],[0.844,0.1]],
 [[0.851,0.1],[0.854,0.9],[0.868,1.3],[0.881,0.85],[0.884,0.05]],
 [[0.891,0.05],[0.894,0.6],[0.908,0.85],[0.921,0.55],[0.924,0]]];
const fFb = [F1v,
 [[0,5.35],[0.027,5.4]], [[0.027,0],[0.027,5.45]],
 [[0.01,1.0],[0.05,2.9],[0.1,3.85],[0.15,4.3],[0.2,4.45],[0.26,4.4],[0.33,4.2],[0.42,3.8],[0.5,3.4],[0.6,2.75],[0.7,2.05],[0.8,1.35],[0.9,0.65],[1,0]],
 [[0.02,0.7],[0.06,2.4],[0.11,3.4],[0.17,3.95],[0.24,4.15],[0.31,4.1],[0.4,3.8],[0.5,3.3],[0.6,2.7],[0.7,2.0],[0.8,1.3],[0.9,0.62],[1,0]],
 [[0.03,0.5],[0.08,2.0],[0.14,3.0],[0.21,3.6],[0.28,3.85],[0.36,3.8],[0.45,3.45],[0.55,2.95],[0.65,2.3],[0.75,1.6],[0.85,0.9],[0.94,0.3],[1,0]],
 [[0.04,0.4],[0.1,1.7],[0.17,2.7],[0.25,3.3],[0.33,3.55],[0.41,3.5],[0.5,3.2],[0.6,2.65],[0.7,2.0],[0.8,1.3],[0.9,0.6],[0.97,0.1]],
 [[0.05,0.3],[0.12,1.4],[0.2,2.4],[0.29,3.0],[0.38,3.25],[0.46,3.2],[0.55,2.9],[0.65,2.35],[0.75,1.7],[0.85,1.0],[0.93,0.35]],
 [[0.06,0.2],[0.14,1.15],[0.23,2.1],[0.32,2.7],[0.41,2.95],[0.5,2.9],[0.59,2.6],[0.68,2.1],[0.78,1.45],[0.88,0.7],[0.95,0.15]],
 [[0.07,0.15],[0.16,0.95],[0.26,1.8],[0.36,2.4],[0.45,2.65],[0.54,2.6],[0.63,2.3],[0.73,1.75],[0.83,1.05],[0.91,0.4],[0.95,0.1]],
 [[0.09,0.1],[0.19,0.75],[0.29,1.5],[0.39,2.05],[0.49,2.35],[0.57,2.3],[0.66,2.0],[0.76,1.45],[0.86,0.75],[0.92,0.25]],
 [[0.11,0.1],[0.21,0.6],[0.31,1.25],[0.42,1.8],[0.52,2.05],[0.6,2.0],[0.69,1.7],[0.79,1.15],[0.88,0.5],[0.92,0.15]],
 [[0.13,0.05],[0.23,0.5],[0.34,1.05],[0.45,1.5],[0.55,1.72],[0.63,1.7],[0.72,1.4],[0.81,0.9],[0.88,0.4],[0.92,0.05]],
 [[0.16,0.05],[0.26,0.4],[0.37,0.85],[0.48,1.25],[0.58,1.45],[0.66,1.4],[0.74,1.15],[0.83,0.65],[0.89,0.2]],
 [[0.2,0.05],[0.3,0.3],[0.41,0.7],[0.52,1.0],[0.62,1.15],[0.7,1.1],[0.78,0.85],[0.85,0.45],[0.9,0.1]],
 [[0.25,0.05],[0.35,0.25],[0.46,0.55],[0.57,0.8],[0.66,0.88],[0.74,0.8],[0.82,0.5],[0.87,0.15]],
 [[0.3,0.05],[0.4,0.2],[0.5,0.4],[0.6,0.58],[0.68,0.62],[0.76,0.5],[0.82,0.25],[0.86,0.05]],
 [[0.01,0.4],[0.04,1.7],[0.07,2.5],[0.1,3.0],[0.14,3.25],[0.18,3.2],[0.23,2.9],[0.29,2.4],[0.36,1.7],[0.43,1.0],[0.5,0.3]],
 [[0.01,0.2],[0.04,1.2],[0.08,1.9],[0.12,2.3],[0.16,2.4],[0.21,2.3],[0.27,1.95],[0.34,1.4],[0.41,0.8],[0.47,0.2]],
 [[0,0],[0.03,0.8],[0.07,1.35],[0.11,1.65],[0.16,1.7],[0.21,1.55],[0.27,1.2],[0.33,0.75],[0.39,0.3],[0.42,0.05]],
 [[0,0],[0.03,0.5],[0.06,0.85],[0.1,1.05],[0.14,1.1],[0.19,0.95],[0.25,0.65],[0.3,0.3],[0.34,0.05]],
 [[0,0],[0.02,0.4],[0.05,0.65],[0.08,0.72],[0.12,0.6],[0.16,0.35],[0.2,0.1],[0.22,0]],
 [[0.1,1.8],[0.16,2.8],[0.22,3.4],[0.28,3.6],[0.34,3.5],[0.4,3.2],[0.47,2.7],[0.55,2.0],[0.63,1.3],[0.7,0.6],[0.75,0.15]],
 [[0.2,1.6],[0.28,2.5],[0.36,3.0],[0.44,3.2],[0.52,3.1],[0.6,2.75],[0.68,2.2],[0.76,1.5],[0.84,0.8],[0.9,0.25]],
 [[0.3,1.0],[0.38,1.8],[0.46,2.4],[0.54,2.65],[0.62,2.6],[0.7,2.25],[0.78,1.7],[0.86,1.0],[0.93,0.35]],
 [[0.4,0.6],[0.48,1.2],[0.56,1.7],[0.64,1.95],[0.72,1.85],[0.8,1.45],[0.88,0.85],[0.95,0.25]],
 [[0.5,0.4],[0.58,0.85],[0.66,1.2],[0.74,1.35],[0.82,1.15],[0.89,0.7],[0.95,0.2]],
 [[0.6,0.3],[0.68,0.6],[0.76,0.85],[0.83,0.8],[0.9,0.5],[0.95,0.15]],
 [[0,0],[0.005,0.5],[0.01,0.6],[0.015,0.4],[0.02,0]],
 [[0,0],[0.008,0.9],[0.015,1.1],[0.022,0.8],[0.03,0]],
 [[0.005,0],[0.015,1.4],[0.025,1.7],[0.035,1.3],[0.045,0]],
 [[0.01,0],[0.022,1.9],[0.035,2.3],[0.048,1.8],[0.06,0.1]],
 [[0.015,0.2],[0.03,2.4],[0.045,2.9],[0.06,2.4],[0.075,0.3]],
 [[0.02,0.3],[0.04,3.0],[0.055,3.5],[0.07,3.0],[0.09,0.6]],
 [[0.03,0.5],[0.05,3.5],[0.067,4.1],[0.085,3.6],[0.1,1.0]],
 [[0.04,0.6],[0.062,4.1],[0.08,4.6],[0.1,4.1],[0.115,1.5]],
 [[0.03,0],[0.045,1.0],[0.06,1.2],[0.075,0.9],[0.09,0]],
 [[0.05,0],[0.065,0.8],[0.08,1.0],[0.095,0.7],[0.11,0]],
 [[0.07,0],[0.085,0.6],[0.1,0.75],[0.115,0.5],[0.13,0]],
 [[0.05,1.5],[0.1,2.6],[0.16,3.3],[0.22,3.6],[0.28,3.5],[0.35,3.0],[0.42,2.3],[0.5,1.5],[0.57,0.7],[0.62,0.1]],
 [[0.15,0.6],[0.22,1.6],[0.3,2.4],[0.38,2.85],[0.46,2.9],[0.54,2.6],[0.62,2.0],[0.7,1.3],[0.77,0.6],[0.82,0.1]],
 [[0.25,0.4],[0.33,1.2],[0.41,1.9],[0.49,2.3],[0.57,2.35],[0.65,2.1],[0.73,1.55],[0.81,0.9],[0.88,0.3]],
 [[0.35,1.5],[0.42,2.4],[0.5,2.9],[0.58,3.0],[0.66,2.7],[0.74,2.1],[0.82,1.35],[0.9,0.6],[0.96,0.1]],
 [[0.45,1.0],[0.52,1.8],[0.6,2.3],[0.68,2.45],[0.76,2.1],[0.84,1.45],[0.92,0.65],[0.97,0.1]],
 [[0.02,0],[0.05,1.4],[0.09,2.2],[0.13,2.5],[0.17,2.3],[0.21,1.7],[0.25,0.9],[0.28,0.2]],
 [[0.04,0],[0.07,1.0],[0.11,1.6],[0.15,1.8],[0.19,1.6],[0.23,1.0],[0.26,0.3]],
 [[0.06,0],[0.09,0.8],[0.13,1.2],[0.17,1.3],[0.21,1.1],[0.25,0.6],[0.28,0.1]],
 [[0.01,0],[0.02,1.0],[0.03,1.3],[0.04,1.0],[0.05,0]],
 [[0.02,0],[0.032,1.5],[0.045,1.9],[0.058,1.5],[0.07,0.1]],
 [[0.1,3.2],[0.14,3.9],[0.18,4.1],[0.22,3.9],[0.26,3.3]],
 [[0.22,3.3],[0.26,3.9],[0.3,4.05],[0.34,3.8],[0.38,3.2]],
 [[0.55,2.2],[0.59,2.7],[0.63,2.85],[0.67,2.7],[0.71,2.2]],
 [[0.65,1.4],[0.69,1.9],[0.73,2.0],[0.77,1.85],[0.81,1.4]]];

// ---------- styles & layout ----------
const COL = {Torsional: '#1e1e66', Longitudinal: '#5b5bc9', Flexural: '#ec2b30'};
const LST = {Torsional: {width: 1.8, type: [8, 6]}, Longitudinal: {width: 1.7, type: 'solid'}, Flexural: {width: 1.6, type: [3, 2.5]}};
const FONT = '"Liberation Serif", "DejaVu Serif", "Times New Roman", serif';
const AX = {color: '#363636', width: 1.6};
const grids = [
 {left: 112, top: 71, width: 523, height: 380},
 {left: 680, top: 71, width: 523, height: 380},
 {left: 1257, top: 71, width: 524, height: 380},
 {left: 112, top: 484, width: 523, height: 379},
 {left: 680, top: 484, width: 523, height: 379},
 {left: 1257, top: 484, width: 524, height: 379}];

const series = [];
function add(g, name, curves, onGrid, smooth) {
  curves.forEach(c => {
    series.push({
      type: 'line', name, xAxisIndex: 2 * g, yAxisIndex: 2 * g, symbol: 'none', smooth,
      silent: true, animation: false, clip: true,
      data: onGrid ? c.map((v, i) => [KG[i], v]) : c,
      lineStyle: {color: COL[name], width: LST[name].width, type: LST[name].type},
      itemStyle: {color: COL[name]}, emphasis: {disabled: true}
    });
  });
}
// top row
add(0, 'Torsional', aT, true, 0.4); add(0, 'Longitudinal', aL, true, 0.4); add(0, 'Flexural', aF, true, 0.4);
add(1, 'Torsional', bT, true, 0.4); add(1, 'Longitudinal', [bL0].concat(bL), true, 0.4); add(1, 'Flexural', bF, true, 0.4);
add(2, 'Torsional', bT.concat(cTx), true, 0.4); add(2, 'Longitudinal', [cL0].concat(bL, cLx), true, 0.4); add(2, 'Flexural', bF.concat(cFx), true, 0.4);
// bottom row
add(3, 'Torsional', dT, false, 0.35); add(3, 'Flexural', dF, false, 0.3); add(3, 'Longitudinal', dLb, false, 0.35); add(3, 'Longitudinal', dLh, false, 0.15);
add(4, 'Torsional', eT, false, 0.35); add(4, 'Longitudinal', eLb, false, 0.35); add(4, 'Flexural', eFb, false, 0.35); add(4, 'Flexural', eFh, false, 0.3); add(4, 'Longitudinal', eLh, false, 0.3);
add(5, 'Torsional', fT, false, 0.35); add(5, 'Longitudinal', fLb, false, 0.35); add(5, 'Flexural', fFb, false, 0.35); add(5, 'Flexural', fFh, false, 0.35); add(5, 'Longitudinal', fLh, false, 0.35);

const TXT = '#151515';
const lbl = {fontFamily: FONT, fontSize: 31, color: TXT};
const subRich = {
  i: {fontFamily: FONT, fontSize: 31, fontStyle: 'italic', lineHeight: 46, color: TXT},
  n: {fontFamily: FONT, fontSize: 31, lineHeight: 46, color: TXT},
  s: {fontFamily: FONT, fontSize: 22, lineHeight: 26, verticalAlign: 'bottom', color: TXT}};
const supRich = {
  i: {fontFamily: FONT, fontSize: 31, fontStyle: 'italic', lineHeight: 44, color: TXT},
  n: {fontFamily: FONT, fontSize: 31, lineHeight: 44, color: TXT},
  p: {fontFamily: FONT, fontSize: 21, lineHeight: 24, verticalAlign: 'top', color: TXT}};
const xAxis = [], yAxis = [];
for (let g = 0; g < 6; g++) {
  const bottom = g >= 3;
  const base = {type: 'value', gridIndex: g, splitLine: {show: false},
    axisLine: {show: true, onZero: false, lineStyle: AX},
    axisTick: {show: true, inside: true, length: 7, lineStyle: AX}};
  xAxis.push(Object.assign({}, base, {min: 0, max: 1, interval: 0.2, position: 'bottom',
    axisLabel: Object.assign({show: bottom, margin: 12}, lbl),
    name: bottom ? '{i|k}{n|/}{i|k}{s|max}' : '', nameLocation: 'middle', nameGap: 50,
    nameTextStyle: {fontFamily: FONT, fontSize: 31, color: TXT, lineHeight: 46, rich: subRich}}));
  xAxis.push(Object.assign({}, base, {min: 0, max: 1, interval: 0.2, position: 'top', axisLabel: {show: false}}));
  let yname = '', ytext = {};
  if (g === 0) {
    yname = '{i|ω}{n|  (10}{p|12}{n| rad/s)}';
    ytext = {fontFamily: FONT, fontSize: 31, color: TXT, lineHeight: 44, rich: supRich};
  } else if (g === 3) {
    yname = '{i|v}{s|g}{n|  (km/s)}';
    ytext = {fontFamily: FONT, fontSize: 31, color: TXT, lineHeight: 46, rich: subRich};
  }
  yAxis.push(Object.assign({}, base, {min: 0, max: bottom ? 10 : 80, interval: bottom ? 2 : 20, position: 'left',
    axisLabel: Object.assign({show: g === 0 || g === 3, margin: 10}, lbl),
    name: yname, nameLocation: 'middle', nameRotate: 90, nameGap: 54, nameTextStyle: ytext}));
  yAxis.push(Object.assign({}, base, {min: 0, max: bottom ? 10 : 80, interval: bottom ? 2 : 20, position: 'right', axisLabel: {show: false}}));
}

const panelLabels = [['(a)', 592, 422], ['(b)', 1161, 422], ['(c)', 1742, 422], ['(d)', 592, 514], ['(e)', 1161, 514], ['(f)', 1742, 514]];

const chart = echarts.init(document.getElementById('c'), null, {renderer: 'canvas'});
chart.setOption({
  animation: false,
  backgroundColor: '#fff',
  grid: grids.map(g => Object.assign({containLabel: false}, g)),
  xAxis, yAxis, series,
  legend: {data: ['Torsional', 'Longitudinal', 'Flexural'], left: 345, top: 11, itemWidth: 126, itemHeight: 10,
    itemGap: 93, selectedMode: false, textStyle: {fontFamily: FONT, fontSize: 31, color: TXT, padding: [0, 0, 0, 18]},
    itemStyle: {color: 'rgba(0,0,0,0)', borderWidth: 0}},
  graphic: panelLabels.map(([t, x, y]) => ({type: 'text', x, y, z: 100, silent: true,
    style: {text: t, fontFamily: FONT, fontSize: 31, fill: TXT, align: 'center', verticalAlign: 'middle'}}))
});
</script></body></html>
